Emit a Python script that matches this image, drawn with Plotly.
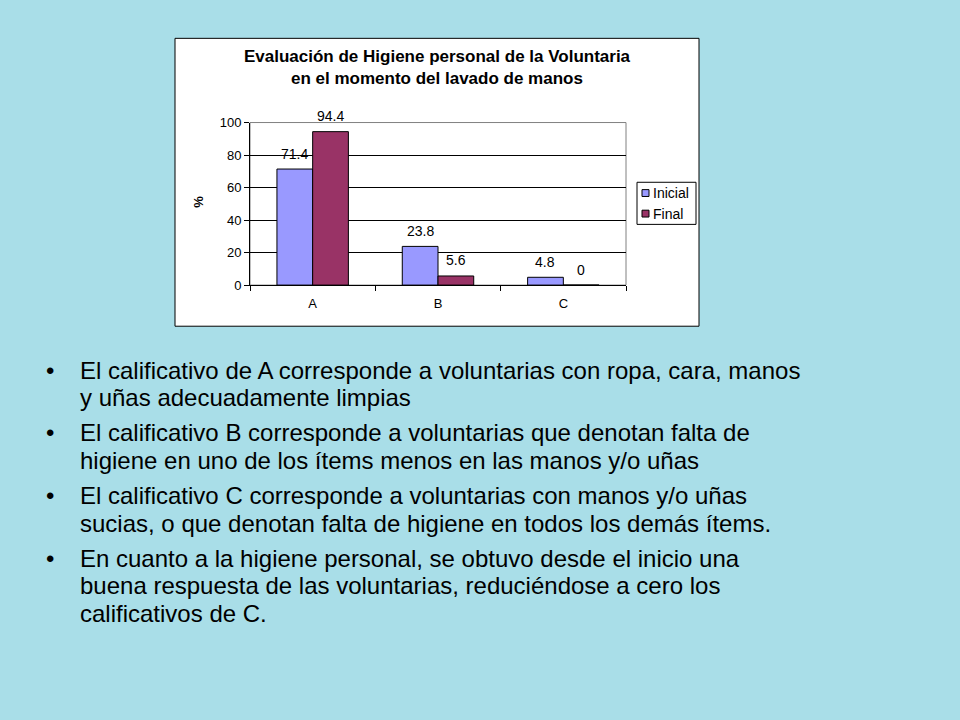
import plotly.graph_objects as go

categories = ["A", "B", "C"]
inicial = [71.4, 23.8, 4.8]
final = [94.4, 5.6, 0]
series_names = ["Inicial", "Final"]
series_colors = ["#9999FF", "#993366"]
y_ticks = [0, 20, 40, 60, 80, 100]
title_lines = ["Evaluación de Higiene personal de la Voluntaria",
               "en el momento del lavado de manos"]
bullets = [
    ["El calificativo de A corresponde a voluntarias con ropa, cara, manos",
     "y uñas adecuadamente limpias"],
    ["El calificativo B corresponde a voluntarias que denotan falta de",
     "higiene en uno de los ítems menos en las manos y/o uñas"],
    ["El calificativo C corresponde a voluntarias con manos y/o uñas",
     "sucias, o que denotan falta de higiene en todos los demás ítems."],
    ["En cuanto a la higiene personal, se obtuvo desde el inicio una",
     "buena respuesta de las voluntarias, reduciéndose a cero los",
     "calificativos de C."],
]

W, H = 960, 720
FONT = "Arial, Liberation Sans, sans-serif"


def px(x):
    return x / W


def py(y):
    return 1 - y / H


PLOT_L, PLOT_R = 250, 626
BARGAP = 0.43
cat_w = (PLOT_R - PLOT_L) / len(categories)
bar_w = cat_w * (1 - BARGAP) / 2

fig = go.Figure()
annotations = []
for k, (name, vals, col) in enumerate(zip(series_names, [inicial, final], series_colors)):
    fig.add_trace(go.Bar(
        x=categories, y=vals, name=name,
        marker=dict(color=col, line=dict(color="black", width=1)),
        showlegend=False,
    ))
    for c, v in zip(categories, vals):
        annotations.append(dict(
            text=str(v), x=c, y=v, xref="x", yref="y", showarrow=False,
            xshift=(k - 0.5) * bar_w, yshift=15.5, xanchor="center", yanchor="middle",
            font=dict(family=FONT, size=14, color="black")))

shapes = [
    dict(type="rect", xref="paper", yref="paper",
         x0=px(175), x1=px(699), y0=py(326), y1=py(32),
         fillcolor="white", line=dict(color="black", width=1), layer="below"),
    dict(type="rect", xref="x domain", yref="y domain", x0=0, x1=1, y0=0, y1=1,
         line=dict(color="#808080", width=1), layer="below"),
    dict(type="rect", xref="paper", yref="paper",
         x0=px(637), x1=px(696), y0=py(222), y1=py(179),
         fillcolor="white", line=dict(color="black", width=1)),
]

for i, (name, col) in enumerate(zip(series_names, series_colors)):
    cy = 190 + 21 * i
    shapes.append(dict(type="rect", xref="paper", yref="paper",
                       x0=px(642), x1=px(649), y0=py(cy + 3.5), y1=py(cy - 3.5),
                       fillcolor=col, line=dict(color="black", width=1)))
    annotations.append(dict(
        text=name, x=px(651), y=py(cy), xref="paper", yref="paper",
        showarrow=False, xanchor="left", yanchor="middle",
        font=dict(family=FONT, size=14, color="black")))

for i, t in enumerate(title_lines):
    annotations.append(dict(
        text="<b>%s</b>" % t, x=px(437), y=py(51 + 22 * i), xref="paper", yref="paper",
        showarrow=False, xanchor="center", yanchor="middle",
        font=dict(family=FONT, size=17, color="black")))
annotations.append(dict(
    text="<b>%</b>", x=px(199), y=py(199), xref="paper", yref="paper",
    showarrow=False, textangle=-90, xanchor="center", yanchor="middle",
    font=dict(family=FONT, size=13, color="black")))

y = 371
for b in bullets:
    annotations.append(dict(
        text="•", x=px(50), y=py(y), xref="paper", yref="paper", showarrow=False,
        xanchor="center", yanchor="middle", font=dict(family=FONT, size=24, color="black")))
    for line in b:
        annotations.append(dict(
            text=line, x=px(78), y=py(y), xref="paper", yref="paper", showarrow=False,
            xanchor="left", yanchor="middle", font=dict(family=FONT, size=24, color="black")))
        y += 28
    y += 8

fig.update_layout(
    width=W, height=H,
    margin=dict(l=0, r=0, t=0, b=0),
    paper_bgcolor="#a9dee8",
    plot_bgcolor="#FFCC00",
    barmode="group", bargap=BARGAP, bargroupgap=0,
    showlegend=False,
    xaxis=dict(domain=[px(PLOT_L), px(PLOT_R)], showline=True, linecolor="black",
               ticks="outside", ticklen=5, tickcolor="black", tickson="boundaries",
               ticklabelstandoff=6,
               tickfont=dict(family=FONT, size=13, color="black"), showgrid=False,
               fixedrange=True),
    yaxis=dict(domain=[py(284), py(118)], range=[0, 100], tickvals=y_ticks,
               showline=True, linecolor="black", ticks="outside", ticklen=5,
               tickcolor="black", gridcolor="black", gridwidth=1,
               tickfont=dict(family=FONT, size=13, color="black"), zeroline=False),
    shapes=shapes,
    annotations=annotations,
)

fig.write_html("out.html", config={"displayModeBar": False},
               post_script="document.body.style.margin='0';document.body.style.overflow='hidden';")
